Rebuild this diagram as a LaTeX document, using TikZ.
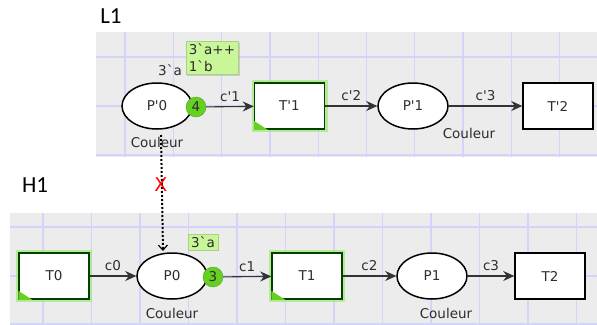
\documentclass[tikz,border=0pt]{standalone}
\usepackage{fontspec}
\setmainfont{DejaVu Sans}
\newfontfamily\titlefont{Carlito}
\usetikzlibrary{shapes.geometric,arrows.meta,shadows}
\definecolor{panelgray}{RGB}{236,236,236}
\definecolor{gridblue}{RGB}{212,212,250}
\definecolor{tokengreen}{RGB}{102,208,34}
\definecolor{markgreen}{RGB}{200,246,152}
\definecolor{glowgreen}{RGB}{150,232,100}
\definecolor{textgray}{RGB}{45,45,45}
\newcommand{\cpnfont}{\fontsize{13.5}{17}\selectfont}
\newcommand{\q}{\textquotesingle}

\begin{document}
\begin{tikzpicture}[x=1pt,y=-1pt,
	place/.style={ellipse,draw,line width=1.5pt,fill=white,minimum width=70pt,minimum height=46pt,font=\cpnfont,text=textgray},
	trans/.style={rectangle,draw,line width=1.5pt,fill=white,minimum width=70pt,minimum height=46pt,font=\cpnfont,text=textgray},
	enabled/.style={trans,draw=black!75!green,preaction={draw=glowgreen,line width=6pt,opacity=0.6}},
	token/.style={circle,fill=tokengreen,draw=tokengreen!80!black,inner sep=0pt,minimum size=20pt,font=\cpnfont,text=textgray},
	marking/.style={fill=markgreen,draw=markgreen!85!black,drop shadow={shadow xshift=1.5pt,shadow yshift=-1.5pt,opacity=0.3},align=left,inner xsep=3pt,inner ysep=2.5pt,font=\cpnfont,text=textgray},
	arc/.style={-{Stealth[length=11pt,width=10pt,inset=3.5pt]},line width=1.1pt,draw=black!80},
	lbl/.style={font=\cpnfont,text=textgray},
	]
	\useasboundingbox (0,0) rectangle (597,324);
	
	% grey panels with their grids
	\fill[panelgray] (96,32) rectangle (597,157);
	\begin{scope}
		\clip (96,32) rectangle (597,157);
		\foreach \i in {0,...,9} \draw[gridblue,line width=1.3pt] (125+48.3*\i,32) -- ++(0,125);
		\foreach \y in {57,106,155} \draw[gridblue,line width=1.3pt] (96,\y) -- (597,\y);
	\end{scope}
	\fill[panelgray] (10,213) rectangle (597,324);
	\begin{scope}
		\clip (10,213) rectangle (597,324);
		\foreach \i in {0,...,11} \draw[gridblue,line width=1.3pt] (43+48.5*\i,213) -- ++(0,111);
		\foreach \y in {227,276,324} \draw[gridblue,line width=1.3pt] (10,\y) -- (597,\y);
	\end{scope}
	
	\node[font=\titlefont\fontsize{23}{26}\selectfont] (L1) at (111,16) {L1};
	\node[font=\titlefont\fontsize{23}{26}\selectfont] (H1) at (35,185) {H1};
	
	%% L1 net
	\node[place] (Pp0) at (157,106) {P\q0};
	\node[token] (tok4) at (196,107) {4};
	\node[enabled] (Tp1) at (289.5,106) {T\q1};
	\fill[tokengreen] (Tp1.south west) -- ++(14,0) -- ++(-14,-9) -- cycle;
	\node[place] (Pp1) at (413,106) {P\q1};
	\node[trans] (Tp2) at (558,106) {T\q2};
	
	\node[lbl] (initL) at (170,70) {3\textasciigrave{}a};
	\node[marking] (markL) at (212,58) {3\textasciigrave{}a++\\1\textasciigrave{}b};
	\node[lbl] (colL0) at (157,142) {Couleur};
	\node[lbl] (colL1) at (469,133) {Couleur};
	
	\draw[arc] (tok4) -- (Tp1) node[lbl,midway,above=1pt] (cp1) {c\q1};
	\draw[arc] (Tp1) -- (Pp1) node[lbl,midway,above=1pt] (cp2) {c\q2};
	\draw[arc] (Pp1) -- (Tp2) node[lbl,midway,above=1pt] (cp3) {c\q3};
	
	%% H1 net
	\node[enabled] (T0) at (54,276) {T0};
	\fill[tokengreen] (T0.south west) -- ++(14,0) -- ++(-14,-9) -- cycle;
	\node[place] (P0) at (172,276) {P0};
	\node[token] (tok3) at (213,277) {3};
	\node[enabled] (T1) at (307,276) {T1};
	\fill[tokengreen] (T1.south west) -- ++(14,0) -- ++(-14,-9) -- cycle;
	\node[place] (P1) at (432,276) {P1};
	\node[trans] (T2) at (550,276) {T2};
	
	\node[marking] (markH) at (203,242) {3\textasciigrave{}a};
	\node[lbl] (colH0) at (172,313) {Couleur};
	\node[lbl] (colH1) at (446,313) {Couleur};
	
	\draw[arc] (T0) -- (P0) node[lbl,midway,above=1pt] (c0) {c0};
	\draw[arc] (tok3) -- (T1) node[lbl,midway,above=1pt] (c1) {c1};
	\draw[arc] (T1) -- (P1) node[lbl,midway,above=1pt] (c2) {c2};
	\draw[arc] (P1) -- (T2) node[lbl,midway,above=1pt] (c3) {c3};
	
	% refinement link between the two nets
	\coordinate (linkA) at (161,135);
	\coordinate (linkB) at (163,251);
	\draw[dotted,line width=2pt,-{Straight Barb[length=5pt,width=9pt,line width=1.2pt]}] (linkA) -- (linkB);
	\node[text=red,font=\fontsize{19}{20}\selectfont] (cross) at (161,185) {X};
\end{tikzpicture}
\end{document}
